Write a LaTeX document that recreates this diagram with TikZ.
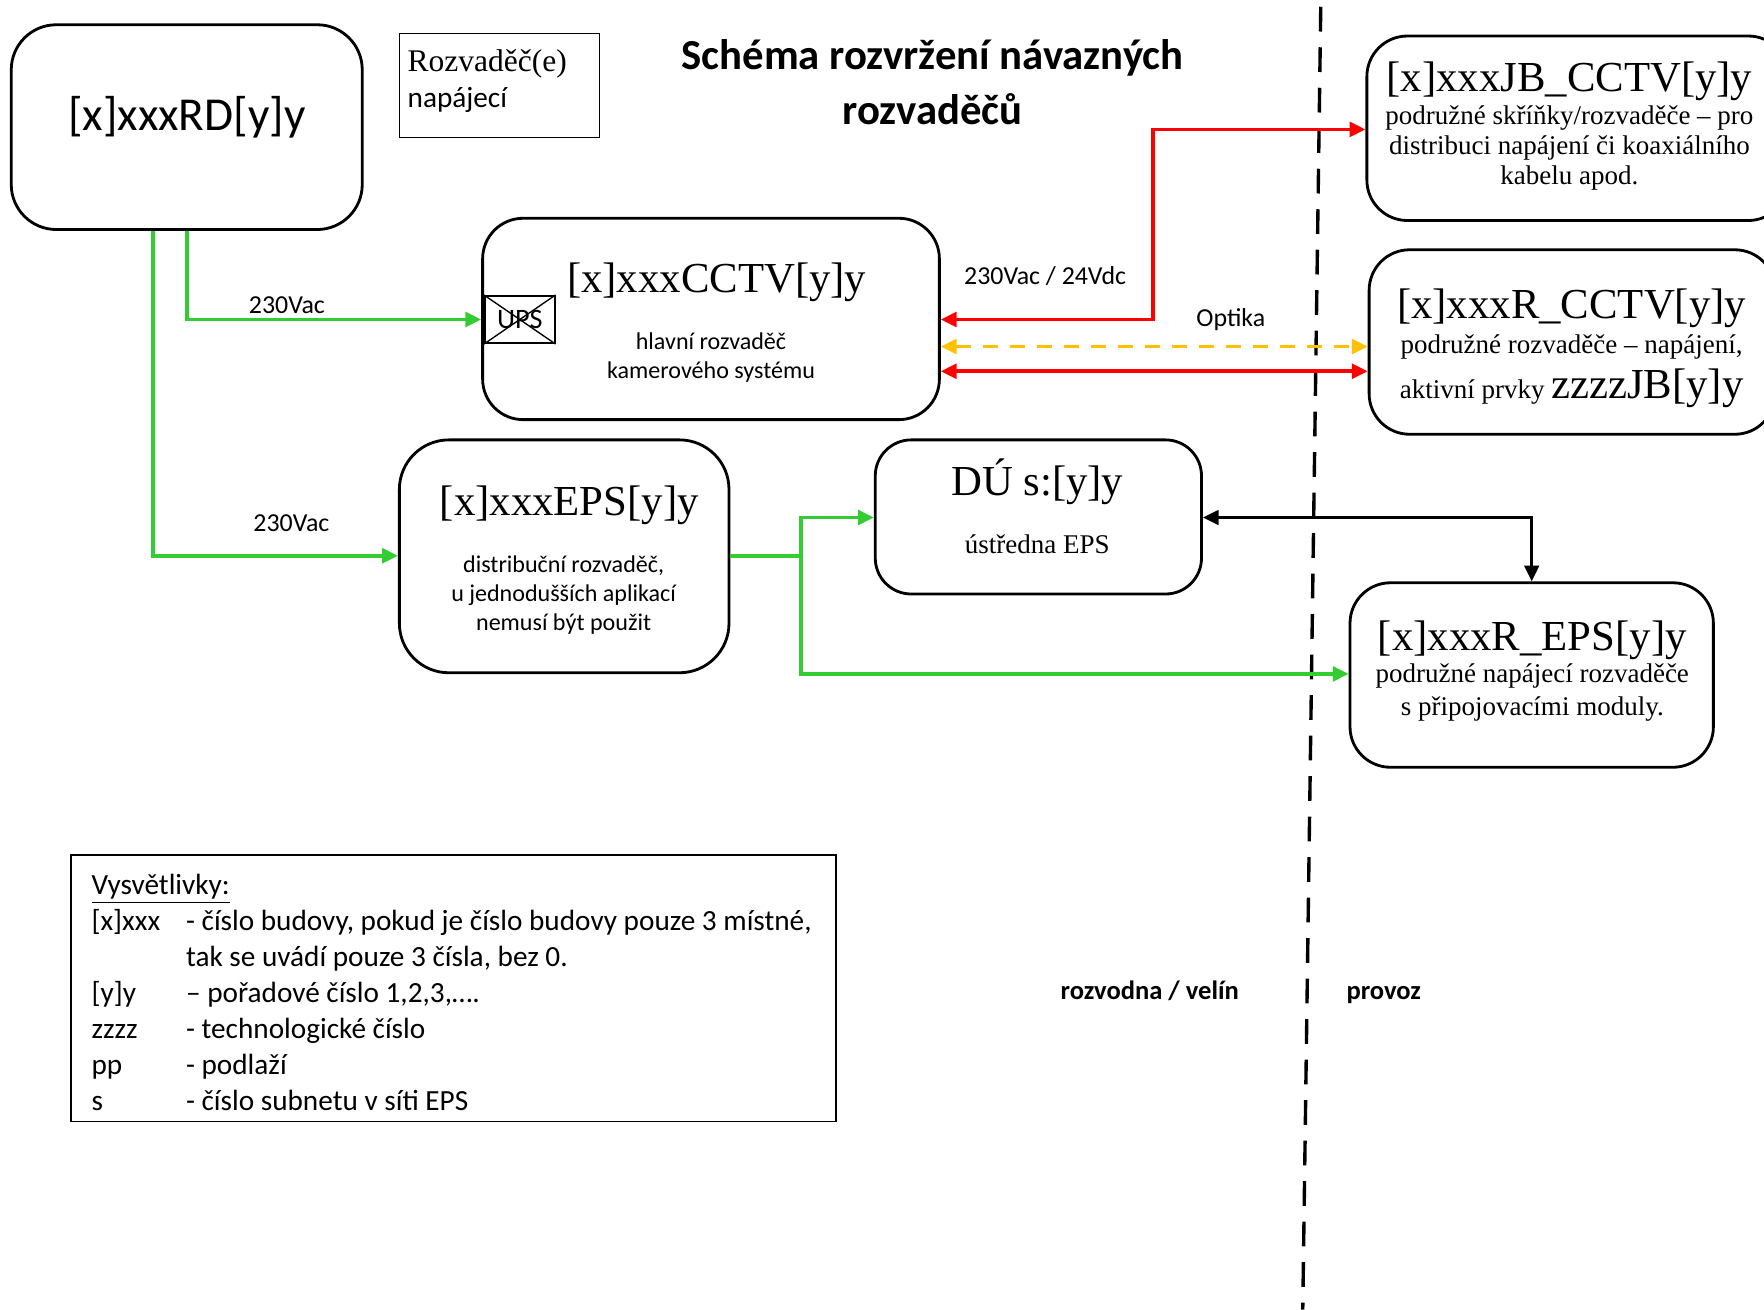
\documentclass[tikz,border=0pt]{standalone}
\usepackage{fontspec}
\setmainfont{Liberation Serif}
\newfontfamily\calfont{Carlito}
\usetikzlibrary{arrows.meta}
\definecolor{lgreen}{RGB}{51,204,51}
\definecolor{lred}{RGB}{255,0,0}
\definecolor{lyellow}{RGB}{255,192,0}
\newcommand{\fs}[2]{\fontsize{#1}{#2}\selectfont}
\begin{document}
\begin{tikzpicture}[x=0.5pt,y=-0.5pt,
  box/.style={draw, rounded corners=18pt, line width=1.25pt, inner sep=0pt},
  plainbox/.style={draw, line width=0.6pt, inner sep=0pt},
  txt/.style={inner sep=0pt},
  gl/.style={draw=lgreen, line width=1.6pt, -{Triangle[length=7pt,width=6.5pt]}},
  rl/.style={draw=lred, line width=1.6pt, {Triangle[length=7pt,width=6.5pt]}-{Triangle[length=7pt,width=6.5pt]}},
  yl/.style={draw=lyellow, line width=1.6pt, dash pattern=on 7pt off 5pt, {Triangle[length=7pt,width=6.5pt]}-{Triangle[length=7pt,width=6.5pt]}},
  bl/.style={draw=black, line width=1.25pt, {Triangle[length=7pt,width=6.5pt]}-{Triangle[length=7pt,width=6.5pt]}},
  lbl/.style={inner sep=0pt, font=\calfont\fs{11.5}{13}}
]
\useasboundingbox (0,0) rectangle (1568,1164);

% boxes
\node[box, rounded corners=20pt, minimum width=156pt, minimum height=91pt] (rd) at (166,113) {};
\node[plainbox, minimum width=89pt, minimum height=46pt] (leg1) at (444,76) {};
\node[box, minimum width=203pt, minimum height=89.5pt] (cctv) at (632,283.5) {};
\node[plainbox, line width=0.8pt, minimum width=31pt, minimum height=21pt] (ups) at (462,284) {};
\node[box, minimum width=187.5pt, minimum height=82pt] (jb) at (1402.5,114) {};
\node[box, minimum width=180.5pt, minimum height=82pt] (rcctv) at (1397.5,304) {};
\node[box, rounded corners=22pt, minimum width=146.5pt, minimum height=103.5pt] (eps) at (501.5,494.5) {};
\node[box, rounded corners=16pt, minimum width=145pt, minimum height=68.5pt] (du) at (923,459.5) {};
\node[box, minimum width=161.5pt, minimum height=82pt] (reps) at (1361.5,600) {};
\node[plainbox, minimum width=340pt, minimum height=118.5pt] (legend) at (403,878.5) {};

% UPS cross
\draw[line width=0.6pt] (ups.north west) -- (ups.south east) (ups.south west) -- (ups.north east);
\node[txt, font=\calfont\fs{12.5}{14}] (upst) at (462,284) {UPS};

% texts
\node[txt, font=\calfont\fs{21}{24}] (rdt) at (166,104) {[x]xxxRD[y]y};
\node[txt, anchor=west, align=left, font=\fs{14}{16}] (leg1t) at (362,72) {Rozvaděč(e)\\{\calfont\fs{13}{16}napájecí}};
\node[txt, align=center, font=\calfont\bfseries\fs{19}{24.5}] (title) at (829,73) {Schéma rozvržení návazných\\rozvaděčů};

\node[txt, font=\fs{19}{22}] (cctvt) at (637,251) {[x]xxxCCTV[y]y};
\node[txt, align=center, font=\calfont\fs{10.7}{13}] (cctvs) at (632,318) {hlavní rozvaděč\\kamerového systému};

\node[txt, font=\fs{19}{22}] (jbt) at (1395,72) {[x]xxxJB\_CCTV[y]y};
\node[txt, align=center, font=\fs{12}{13.5}] (jbs) at (1395,131.5) {podružné skříňky/rozvaděče – pro\\distribuci napájení či koaxiálního\\kabelu apod.};

\node[txt, font=\fs{19}{22}] (rcctvt) at (1397,274) {[x]xxxR\_CCTV[y]y};
\node[txt, font=\fs{12}{14}] (rcctvs1) at (1397,308) {podružné rozvaděče – napájení,};
\node[txt, font=\fs{12}{14}] (rcctvs2) at (1397,345) {aktivní prvky {\fs{19}{22}zzzzJB[y]y}};

\node[txt, font=\fs{19}{22}] (epst) at (506,449) {[x]xxxEPS[y]y};
\node[txt, align=center, font=\calfont\fs{10.7}{13}] (epss) at (501,529) {distribuční rozvaděč,\\u jednodušších aplikací\\nemusí být použit};

\node[txt, font=\fs{19}{22}] (dut) at (922,428) {DÚ s:[y]y};
\node[txt, font=\fs{12}{14}] (dus) at (922,484) {ústředna EPS};

\node[txt, font=\fs{19}{22}] (repst) at (1362,569) {[x]xxxR\_EPS[y]y};
\node[txt, align=center, font=\fs{12}{14.5}] (repss) at (1362,615.5) {podružné napájecí rozvaděče\\s připojovacími moduly.};

\node[txt, anchor=west, align=left, font=\calfont\fs{13}{16}] (legt) at (81,882) {\underline{Vysvětlivky:}\\
\makebox[42pt][l]{[x]xxx}- číslo budovy, pokud je číslo budovy pouze 3 místné,\\
\hspace*{42pt}tak se uvádí pouze 3 čísla, bez 0.\\
\makebox[42pt][l]{[y]y}– pořadové číslo 1,2,3,….\\
\makebox[42pt][l]{zzzz}- technologické číslo\\
\makebox[42pt][l]{pp}- podlaží\\
\makebox[42pt][l]{s}- číslo subnetu v síti EPS};

\node[txt, anchor=base, font=\calfont\bfseries\fs{11.8}{14}] (zone1) at (1022,888) {rozvodna / velín};
\node[txt, anchor=base, font=\calfont\bfseries\fs{11.8}{14}] (zone2) at (1230,888) {provoz};

% divider
\coordinate (divtop) at (1174,6);
\coordinate (divbot) at (1158,1164);
\draw[line width=1.5pt, dash pattern=on 11pt off 7pt] (divtop) -- (divbot);

% connectors
\draw[gl] (rd.south -| 166,0) |- (cctv.west |- 0,284);
\node[lbl] (l1) at (255,271) {230Vac};
\draw[gl] (rd.south -| 136,0) |- (eps.west |- 0,494);
\node[lbl] (l2) at (259,465) {230Vac};

\coordinate (gsplit) at (712,494);
\draw[draw=lgreen, line width=1.6pt] (eps.east |- 0,494) -- (gsplit);
\draw[gl] (gsplit) |- (du.west |- 0,460);
\draw[gl] (gsplit) |- (reps.west |- 0,599);

\draw[rl] (cctv.east |- 0,284) -- (1025,284) -- (1025,115) -- (jb.west |- 0,115);
\node[lbl] (l3) at (929,245) {230Vac / 24Vdc};
\draw[yl] (cctv.east |- 0,308) -- (rcctv.west |- 0,308);
\node[lbl] (l4) at (1094,284) {Optika};
\draw[rl] (cctv.east |- 0,330) -- (rcctv.west |- 0,330);

\draw[bl] (du.east |- 0,460) -| (reps.north);
\end{tikzpicture}
\end{document}
